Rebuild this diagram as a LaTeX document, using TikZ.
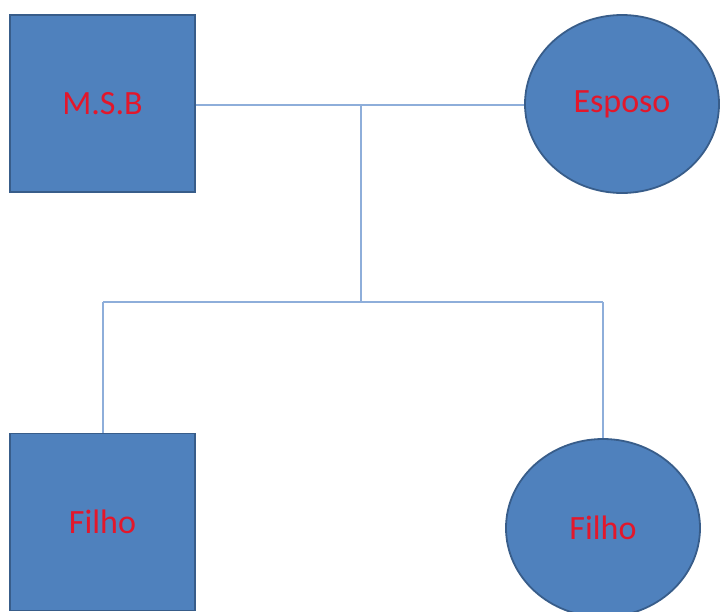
\documentclass[tikz,border=0pt]{standalone}
\usepackage{fontspec}
\setmainfont{Carlito}
\usetikzlibrary{shapes.geometric}
\definecolor{shapefill}{HTML}{4F81BD}
\definecolor{shapeedge}{HTML}{385D8A}
\definecolor{linkcol}{HTML}{8EAEDA}
\definecolor{labelred}{HTML}{E3172B}
\begin{document}
\begin{tikzpicture}[x=1pt,y=-1pt,
  person/.style={draw=shapeedge,fill=shapefill,line width=1.8pt,text=labelred,
    font=\fontsize{34}{40}\selectfont,inner sep=0pt},
  male/.style={person,rectangle,minimum width=185pt,minimum height=177pt},
  female/.style={person,ellipse,minimum width=194pt,minimum height=178pt},
  link/.style={draw=linkcol,line width=1.6pt}]
\useasboundingbox (0,0) rectangle (720,611);
\clip (0,0) rectangle (720,611);
\node[male] (msb) at (102.5,103.5) {M.S.B};
\node[female] (esp) at (622,104) {Esposo};
\node[male] (f1) at (102.5,522) {Filho};
\node[female] (f2) at (603,528) {Filho};
\coordinate (m) at (361,105);
\coordinate (j) at (361,302);
\coordinate (l) at (103,302);
\coordinate (r) at (603,302);
\draw[link] (msb.east |- m) -- (esp.west |- m);
\draw[link] (m) -- (j);
\draw[link] (l) -- (r);
\draw[link] (l) -- (l |- f1.north);
\draw[link] (r) -- (f2.north);
\end{tikzpicture}
\end{document}
